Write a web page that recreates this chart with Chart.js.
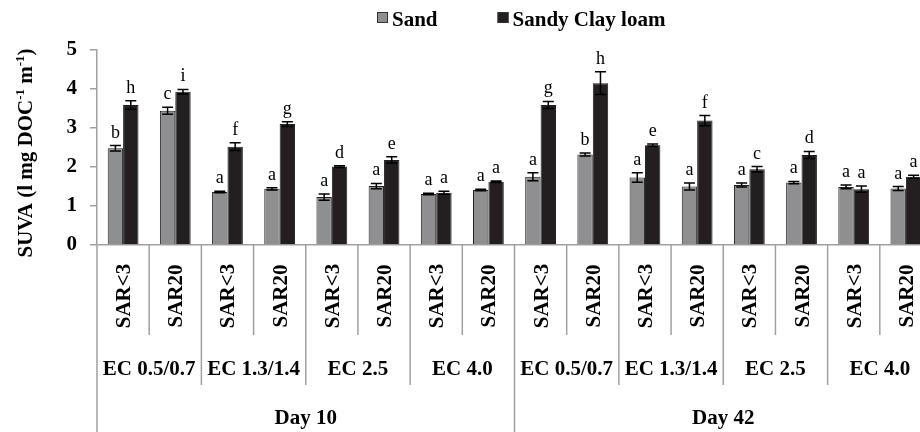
<!DOCTYPE html>
<html>
<head>
<meta charset="utf-8">
<script src="https://cdn.jsdelivr.net/npm/chart.js@4.4.1/dist/chart.umd.min.js"></script>
<style>
  html, body { margin: 0; padding: 0; background: #fff; overflow: hidden; }
  #wrap { width: 920px; height: 432px; overflow: hidden; }
</style>
</head>
<body>
<div id="wrap"><canvas id="suvaChart" width="932" height="432"></canvas></div>
<script>
// factor levels
const dayLevels = ['Day 10', 'Day 42'];
const ecLevels = ['EC 0.5/0.7', 'EC 1.3/1.4', 'EC 2.5', 'EC 4.0'];
const sarLevels = ['SAR<3', 'SAR20'];

// SUVA means and error bars
const sandValues = [2.48, 3.44, 1.36, 1.44, 1.23, 1.51, 1.31, 1.41, 1.75, 2.32, 1.73, 1.50, 1.54, 1.60, 1.49, 1.45];
const sandErrors = [0.07, 0.09, 0.02, 0.03, 0.08, 0.07, 0.02, 0.02, 0.10, 0.04, 0.12, 0.09, 0.05, 0.03, 0.05, 0.05];
const clayValues = [3.59, 3.93, 2.52, 3.10, 2.01, 2.18, 1.34, 1.62, 3.59, 4.15, 2.56, 3.19, 1.94, 2.31, 1.43, 1.75];
const clayErrors = [0.11, 0.06, 0.10, 0.06, 0.02, 0.08, 0.04, 0.02, 0.09, 0.29, 0.03, 0.13, 0.07, 0.09, 0.08, 0.04];

// significance letters
const sandLetters = ['b', 'c', 'a', 'a', 'a', 'a', 'a', 'a', 'a', 'b', 'a', 'a', 'a', 'a', 'a', 'a'];
const clayLetters = ['h', 'i', 'f', 'g', 'd', 'e', 'a', 'a', 'g', 'h', 'e', 'f', 'c', 'd', 'a', 'a'];

const yTicks = [0, 1, 2, 3, 4, 5];

const SERIF = '"Liberation Serif", "Times New Roman", serif';
const GRAY_BAR = '#8f8f91';
const DARK_BAR = '#231f20';
const AXIS = '#a0a0a0';

// one category per (day, ec, sar) combination
const categories = [];
dayLevels.forEach(d => ecLevels.forEach(ec => sarLevels.forEach(s => categories.push([s, ec, d]))));

const errorBars = {
    id: 'errorBars',
    afterDatasetsDraw(chart) {
        const { ctx, scales: { y } } = chart;
        ctx.save();
        ctx.strokeStyle = '#000';
        ctx.lineWidth = 1.5;
        ctx.fillStyle = '#000';
        ctx.font = '18px ' + SERIF;
        ctx.textAlign = 'center';
        ctx.textBaseline = 'alphabetic';
        chart.data.datasets.forEach((ds, i) => {
            const meta = chart.getDatasetMeta(i);
            meta.data.forEach((bar, j) => {
                const v = ds.data[j];
                const e = ds.errors[j];
                const top = y.getPixelForValue(v + e);
                const bot = y.getPixelForValue(v - e);
                ctx.beginPath();
                ctx.moveTo(bar.x, bot);
                ctx.lineTo(bar.x, top);
                ctx.moveTo(bar.x - 5.5, top);
                ctx.lineTo(bar.x + 5.5, top);
                ctx.moveTo(bar.x - 5.5, bot);
                ctx.lineTo(bar.x + 5.5, bot);
                ctx.stroke();
                ctx.fillText(ds.letters[j], bar.x, top - 8);
            });
        });
        ctx.restore();
    }
};

const groupAxis = {
    id: 'groupAxis',
    afterDraw(chart) {
        const { ctx, chartArea, scales: { x } } = chart;
        const n = categories.length;
        const step = (x.right - x.left) / n;
        const edge = i => x.left + i * step;
        const base = chartArea.bottom;
        ctx.save();
        ctx.strokeStyle = AXIS;
        ctx.lineWidth = 1.5;
        // separators
        for (let i = 0; i <= n; i++) {
            let end = 335;
            if (i % 2 === 0) end = 385;
            if (i % 8 === 0) end = 432;
            ctx.beginPath();
            ctx.moveTo(edge(i), base);
            ctx.lineTo(edge(i), end);
            ctx.stroke();
        }
        ctx.fillStyle = '#000';
        ctx.font = 'bold 21px ' + SERIF;
        // SAR labels, rotated
        categories.forEach((c, i) => {
            ctx.save();
            ctx.translate(x.getPixelForValue(i) + 7, 296);
            ctx.rotate(-Math.PI / 2);
            ctx.textAlign = 'center';
            ctx.textBaseline = 'alphabetic';
            ctx.fillText(c[0], 0, 0);
            ctx.restore();
        });
        ctx.textAlign = 'center';
        ctx.textBaseline = 'alphabetic';
        // EC labels
        for (let g = 0; g < n / 2; g++) {
            ctx.fillText(categories[g * 2][1], (edge(g * 2) + edge(g * 2 + 2)) / 2, 375);
        }
        // day labels
        for (let d = 0; d < n / 8; d++) {
            ctx.fillText(categories[d * 8][2], (edge(d * 8) + edge(d * 8 + 8)) / 2, 424);
        }

        // y axis title with superscripts
        ctx.save();
        ctx.translate(32, 153);
        ctx.rotate(-Math.PI / 2);
        const parts = [
            ['SUVA (l mg DOC', 0], ['-1', 1], [' m', 0], ['-1', 1], [')', 0]
        ];
        const big = 'bold 21px ' + SERIF, small = 'bold 13px ' + SERIF;
        let total = 0;
        parts.forEach(p => { ctx.font = p[1] ? small : big; total += ctx.measureText(p[0]).width; });
        let cx = -total / 2;
        ctx.textAlign = 'left';
        parts.forEach(p => {
            ctx.font = p[1] ? small : big;
            ctx.fillText(p[0], cx, p[1] ? -8 : 0);
            cx += ctx.measureText(p[0]).width;
        });
        ctx.restore();

        // legend
        ctx.font = 'bold 21px ' + SERIF;
        ctx.textAlign = 'left';
        let lx = 377;
        chart.data.datasets.forEach(ds => {
            ctx.fillStyle = ds.backgroundColor;
            ctx.fillRect(lx, 12, 11, 11);
            ctx.strokeStyle = '#333';
            ctx.lineWidth = 1;
            ctx.strokeRect(lx + 0.5, 12.5, 10, 10);
            ctx.fillStyle = '#000';
            ctx.fillText(ds.label, lx + 15, 26);
            lx += 15 + ctx.measureText(ds.label).width + 60;
        });
        ctx.restore();
    }
};

new Chart(document.getElementById('suvaChart').getContext('2d'), {
    type: 'bar',
    data: {
        labels: categories.map(c => c.join(' ')),
        datasets: [
            {
                label: 'Sand',
                data: sandValues,
                errors: sandErrors,
                letters: sandLetters,
                backgroundColor: GRAY_BAR,
                borderColor: DARK_BAR,
                borderWidth: 1
            },
            {
                label: 'Sandy Clay loam',
                data: clayValues,
                errors: clayErrors,
                letters: clayLetters,
                backgroundColor: DARK_BAR,
                borderColor: DARK_BAR,
                borderWidth: 1
            }
        ]
    },
    options: {
        responsive: false,
        animation: false,
        events: [],
        layout: { padding: { top: 50, bottom: 187, left: 0, right: 0 } },
        categoryPercentage: 0.59,
        barPercentage: 1.0,
        plugins: {
            legend: { display: false },
            tooltip: { enabled: false }
        },
        scales: {
            x: { display: false },
            y: {
                min: 0,
                max: 5,
                afterFit: scale => { scale.width = 97; },
                afterBuildTicks: scale => { scale.ticks = yTicks.map(v => ({ value: v })); },
                border: { color: AXIS, width: 1.5 },
                grid: {
                    drawOnChartArea: true,
                    color: c => (c.tick && c.tick.value === 0 ? AXIS : 'rgba(0,0,0,0)'),
                    tickColor: AXIS,
                    tickLength: 7,
                    lineWidth: 1.5
                },
                ticks: {
                    padding: 13,
                    color: '#000',
                    font: { family: SERIF, size: 21, weight: 'bold' }
                }
            }
        }
    },
    plugins: [errorBars, groupAxis]
});
</script>
</body>
</html>
